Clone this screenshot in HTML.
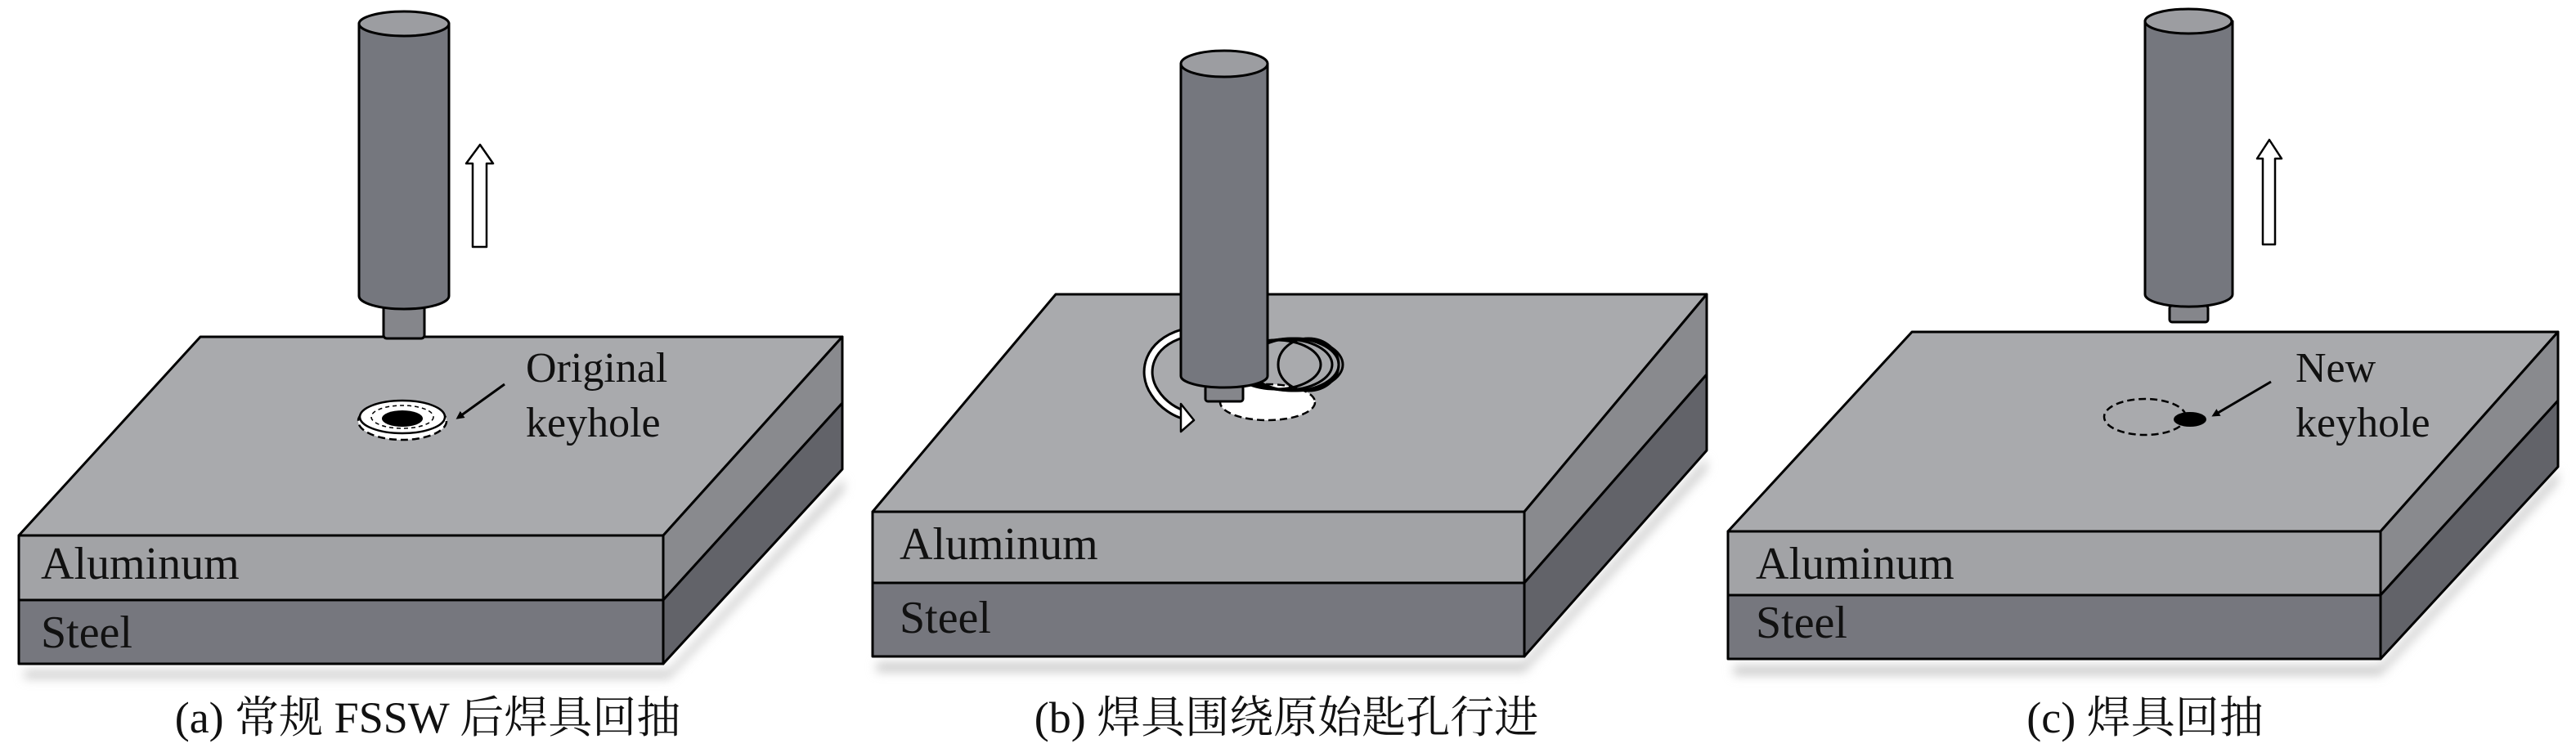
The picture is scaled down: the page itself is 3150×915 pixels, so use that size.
<!DOCTYPE html>
<html><head><meta charset="utf-8"><style>
html,body{margin:0;padding:0;background:#fff}
svg{display:block}
.s{font-family:"Liberation Serif","Times New Roman",serif}
.c{font-family:"Liberation Serif","Noto Serif CJK SC","Noto Sans CJK SC",serif}
</style></head><body>
<svg width="3150" height="915" viewBox="0 0 3150 915" xmlns="http://www.w3.org/2000/svg">
<defs>
<filter id="sh" x="-5%" y="-5%" width="110%" height="120%"><feGaussianBlur stdDeviation="6"/></filter>
<marker id="ah" markerWidth="10" markerHeight="10" refX="7" refY="5" orient="auto" markerUnits="userSpaceOnUse" viewBox="0 0 10 10"><path d="M0,0 L10,5 L0,10 Z" fill="#000"/></marker>
</defs>

<g stroke="#000" stroke-width="3" stroke-linejoin="round">
  <polygon points="30,820 818,820 1032,585 1032,600 818,830 30,830" fill="#ccc" stroke="none" filter="url(#sh)"/>
  <polygon points="245,412 1030,412 811,655 23,655" fill="#a9aaad"/>
  <polygon points="811,655 1030,412 1030,493 811,734" fill="#898a8e"/>
  <polygon points="811,734 1030,493 1030,574 811,812" fill="#626369"/>
  <rect x="23" y="655" width="788" height="79" fill="#a2a3a6"/>
  <rect x="23" y="734" width="788" height="78" fill="#76777e"/>
  <rect x="469" y="372" width="50" height="42" rx="4" fill="#85868b"/>
  <path d="M439,29 L439,362 A55,16 0 0 0 549,362 L549,29 Z" fill="#75777e"/>
  <ellipse cx="494" cy="29" rx="55" ry="15" fill="#9c9da1"/>
  <polygon points="587,177 603,200 595,200 595,302 578,302 578,200 570,200" fill="#fff" stroke-width="2.5"/>
  <ellipse cx="492" cy="515" rx="54" ry="23" fill="#fff" stroke-width="2.5" stroke-dasharray="9,5"/>
  <ellipse cx="492" cy="510" rx="52" ry="20" fill="#fff" stroke-width="2.5"/>
  <ellipse cx="492" cy="510" rx="38" ry="14" fill="#fff" stroke-width="1.5" stroke-dasharray="5,4"/>
  <ellipse cx="492" cy="512" rx="25" ry="10" fill="#000" stroke="none"/>
  <line x1="617" y1="470" x2="560" y2="511" stroke-width="3" marker-end="url(#ah)"/>
</g>

<g stroke="#000" stroke-width="3" stroke-linejoin="round">
  <polygon points="1072,810 1864,810 2087,560 2087,575 1864,822 1072,822" fill="#ccc" stroke="none" filter="url(#sh)"/>
  <polygon points="1291,360 2087,360 1864,626 1067,626" fill="#a9aaad"/>
  <polygon points="1864,626 2087,360 2087,458 1864,713" fill="#898a8e"/>
  <polygon points="1864,713 2087,458 2087,551 1864,803" fill="#626369"/>
  <rect x="1067" y="626" width="797" height="87" fill="#a2a3a6"/>
  <rect x="1067" y="713" width="797" height="90" fill="#76777e"/>
  <ellipse cx="1550" cy="492" rx="58" ry="22" fill="#fff" stroke-width="2.5" stroke-dasharray="9,5"/>
  <g fill="none" stroke-width="3">
    <ellipse cx="1560" cy="446" rx="55" ry="30"/>
    <ellipse cx="1572" cy="446" rx="57" ry="31"/>
    <ellipse cx="1584" cy="446" rx="58" ry="32"/>
    <ellipse cx="1580" cy="446" rx="57" ry="32"/>
    <ellipse cx="1600" cy="446" rx="37" ry="32"/>
  </g>
  <path d="M1446,408 C1405,420 1395,455 1412,480 C1422,496 1438,505 1450,508" fill="none" stroke="#000" stroke-width="13"/>
  <path d="M1446,408 C1405,420 1395,455 1412,480 C1422,496 1438,505 1450,508" fill="none" stroke="#fff" stroke-width="7"/>
  <polygon points="1444,494 1460,514 1444,528" fill="#fff" stroke-width="2.5"/>
  <rect x="1474" y="472" width="46" height="19" rx="3" fill="#85868b"/>
  <path d="M1444,78 L1444,460 A53,14 0 0 0 1550,460 L1550,78 Z" fill="#75777e"/>
  <ellipse cx="1497" cy="78" rx="53" ry="16" fill="#9c9da1"/>
</g>

<g stroke="#000" stroke-width="3" stroke-linejoin="round">
  <polygon points="2120,814 2911,814 3128,575 3128,590 2911,826 2120,826" fill="#ccc" stroke="none" filter="url(#sh)"/>
  <polygon points="2338,406 3128,406 2911,650 2113,650" fill="#a9aaad"/>
  <polygon points="2911,650 3128,406 3128,490 2911,728" fill="#898a8e"/>
  <polygon points="2911,728 3128,490 3128,571 2911,806" fill="#626369"/>
  <rect x="2113" y="650" width="798" height="78" fill="#a2a3a6"/>
  <rect x="2113" y="728" width="798" height="78" fill="#76777e"/>
  <rect x="2653" y="374" width="47" height="20" rx="3" fill="#85868b"/>
  <path d="M2623,26 L2623,360 A53,15 0 0 0 2730,360 L2730,26 Z" fill="#75777e"/>
  <ellipse cx="2676" cy="26" rx="53" ry="15" fill="#9c9da1"/>
  <polygon points="2775,171 2790,194 2782,194 2782,299 2767,299 2767,194 2760,194" fill="#fff" stroke-width="2.5"/>
  <ellipse cx="2623" cy="510" rx="50" ry="22" fill="none" stroke-width="2.5" stroke-dasharray="9,5"/>
  <ellipse cx="2678" cy="513" rx="20" ry="9" fill="#000" stroke="none"/>
  <line x1="2777" y1="467" x2="2707" y2="508" stroke-width="3" marker-end="url(#ah)"/>
</g>

<g fill="#111">
<text class="s" x="643" y="467" font-size="52">Original</text>
<text class="s" x="643" y="534" font-size="52">keyhole</text>
<text class="s" x="50" y="708" font-size="56">Aluminum</text>
<text class="s" x="50" y="792" font-size="56">Steel</text>
<text class="c" x="523" y="896" font-size="54" text-anchor="middle">(a) 常规 FSSW 后焊具回抽</text>
<text class="s" x="1100" y="684" font-size="56">Aluminum</text>
<text class="s" x="1100" y="774" font-size="56">Steel</text>
<text class="c" x="1573" y="896" font-size="54" text-anchor="middle">(b) 焊具围绕原始匙孔行进</text>
<text class="s" x="2807" y="467" font-size="52">New</text>
<text class="s" x="2807" y="534" font-size="52">keyhole</text>
<text class="s" x="2147" y="708" font-size="56">Aluminum</text>
<text class="s" x="2147" y="780" font-size="56">Steel</text>
<text class="c" x="2623" y="896" font-size="54" text-anchor="middle">(c)  焊具回抽</text>
</g>
</svg>
</body></html>
